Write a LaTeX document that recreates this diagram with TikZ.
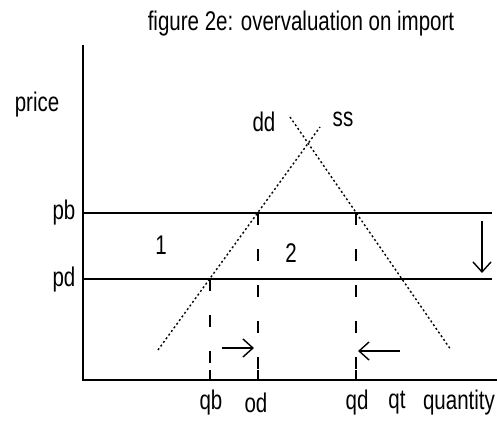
\documentclass[tikz,border=0pt]{standalone}
\usepackage{fontspec}
\setmainfont{Liberation Sans}[FakeStretch=0.76]
\usetikzlibrary{arrows.meta}

\begin{document}
\begin{tikzpicture}[x=1pt,y=-1pt,
    every node/.style={inner sep=0pt,font=\fontsize{27}{31}\selectfont},
    axisline/.style={line width=1.6pt},
    curve/.style={line width=1.4pt,dash pattern=on 2pt off 2.5pt},
    guide/.style={line width=1.4pt,dash pattern=on 12pt off 24pt},
    move/.style={line width=1.4pt,-{Straight Barb[length=10pt,width=18pt]}}]
    \useasboundingbox (0,0) rectangle (498,423);
    \node (title) at (301,24) {figure 2e: overvaluation on import};
    % axes
    \coordinate (top) at (83,45);
    \coordinate (o) at (83,380);
    \coordinate (right) at (497,380);
    \draw[axisline] (top) -- (o) -- (right);
    \node (price) at (37,105) {price};
    \node (quantity) at (459,403) {quantity};
    % price lines
    \coordinate (pbl) at (83,213);
    \coordinate (pbr) at (492,213);
    \coordinate (pdl) at (83,279);
    \coordinate (pdr) at (492,279);
    \draw[axisline] (pbl) -- (pbr);
    \draw[axisline] (pdl) -- (pdr);
    \node (pb) at (64,213) {pb};
    \node (pd) at (64,280) {pd};
    % supply and demand
    \coordinate (s1) at (158,350);
    \coordinate (s2) at (320,127);
    \coordinate (d1) at (290,117);
    \coordinate (d2) at (451,350);
    \draw[curve] (s1) -- (s2);
    \draw[curve] (d1) -- (d2);
    \node (dd) at (264,122) {dd};
    \node (ss) at (343,119) {ss};
    \node (one) at (161,245) {1};
    \node (two) at (291,253) {2};
    % quantities
    \coordinate (spd) at (210,279);
    \coordinate (spb) at (258,213);
    \coordinate (dpb) at (356,213);
    \coordinate (qb) at (210,380);
    \coordinate (qs) at (258,380);
    \coordinate (qd) at (356,380);
    \draw[guide] (spd) -- (qb);
    \draw[guide] (spb) -- (qs);
    \draw[guide] (dpb) -- (qd);
    \draw[axisline] (qb) -- ++(0,-10);
    \draw[axisline] (qs) -- ++(0,-10);
    \draw[axisline] (qd) -- ++(0,-10);
    \node (lqb) at (211,403) {qb};
    \node (lod) at (256,403) {od};
    \node (lqd) at (357,403) {qd};
    \node (lqt) at (397,403) {qt};
    % shifts
    \coordinate (a1) at (222,348);
    \coordinate (a2) at (254,348);
    \coordinate (b1) at (400,351);
    \coordinate (b2) at (358,351);
    \coordinate (c1) at (482,221);
    \coordinate (c2) at (482,273);
    \draw[move] (a1) -- (a2);
    \draw[move] (b1) -- (b2);
    \draw[move] (c1) -- (c2);
\end{tikzpicture}
\end{document}
